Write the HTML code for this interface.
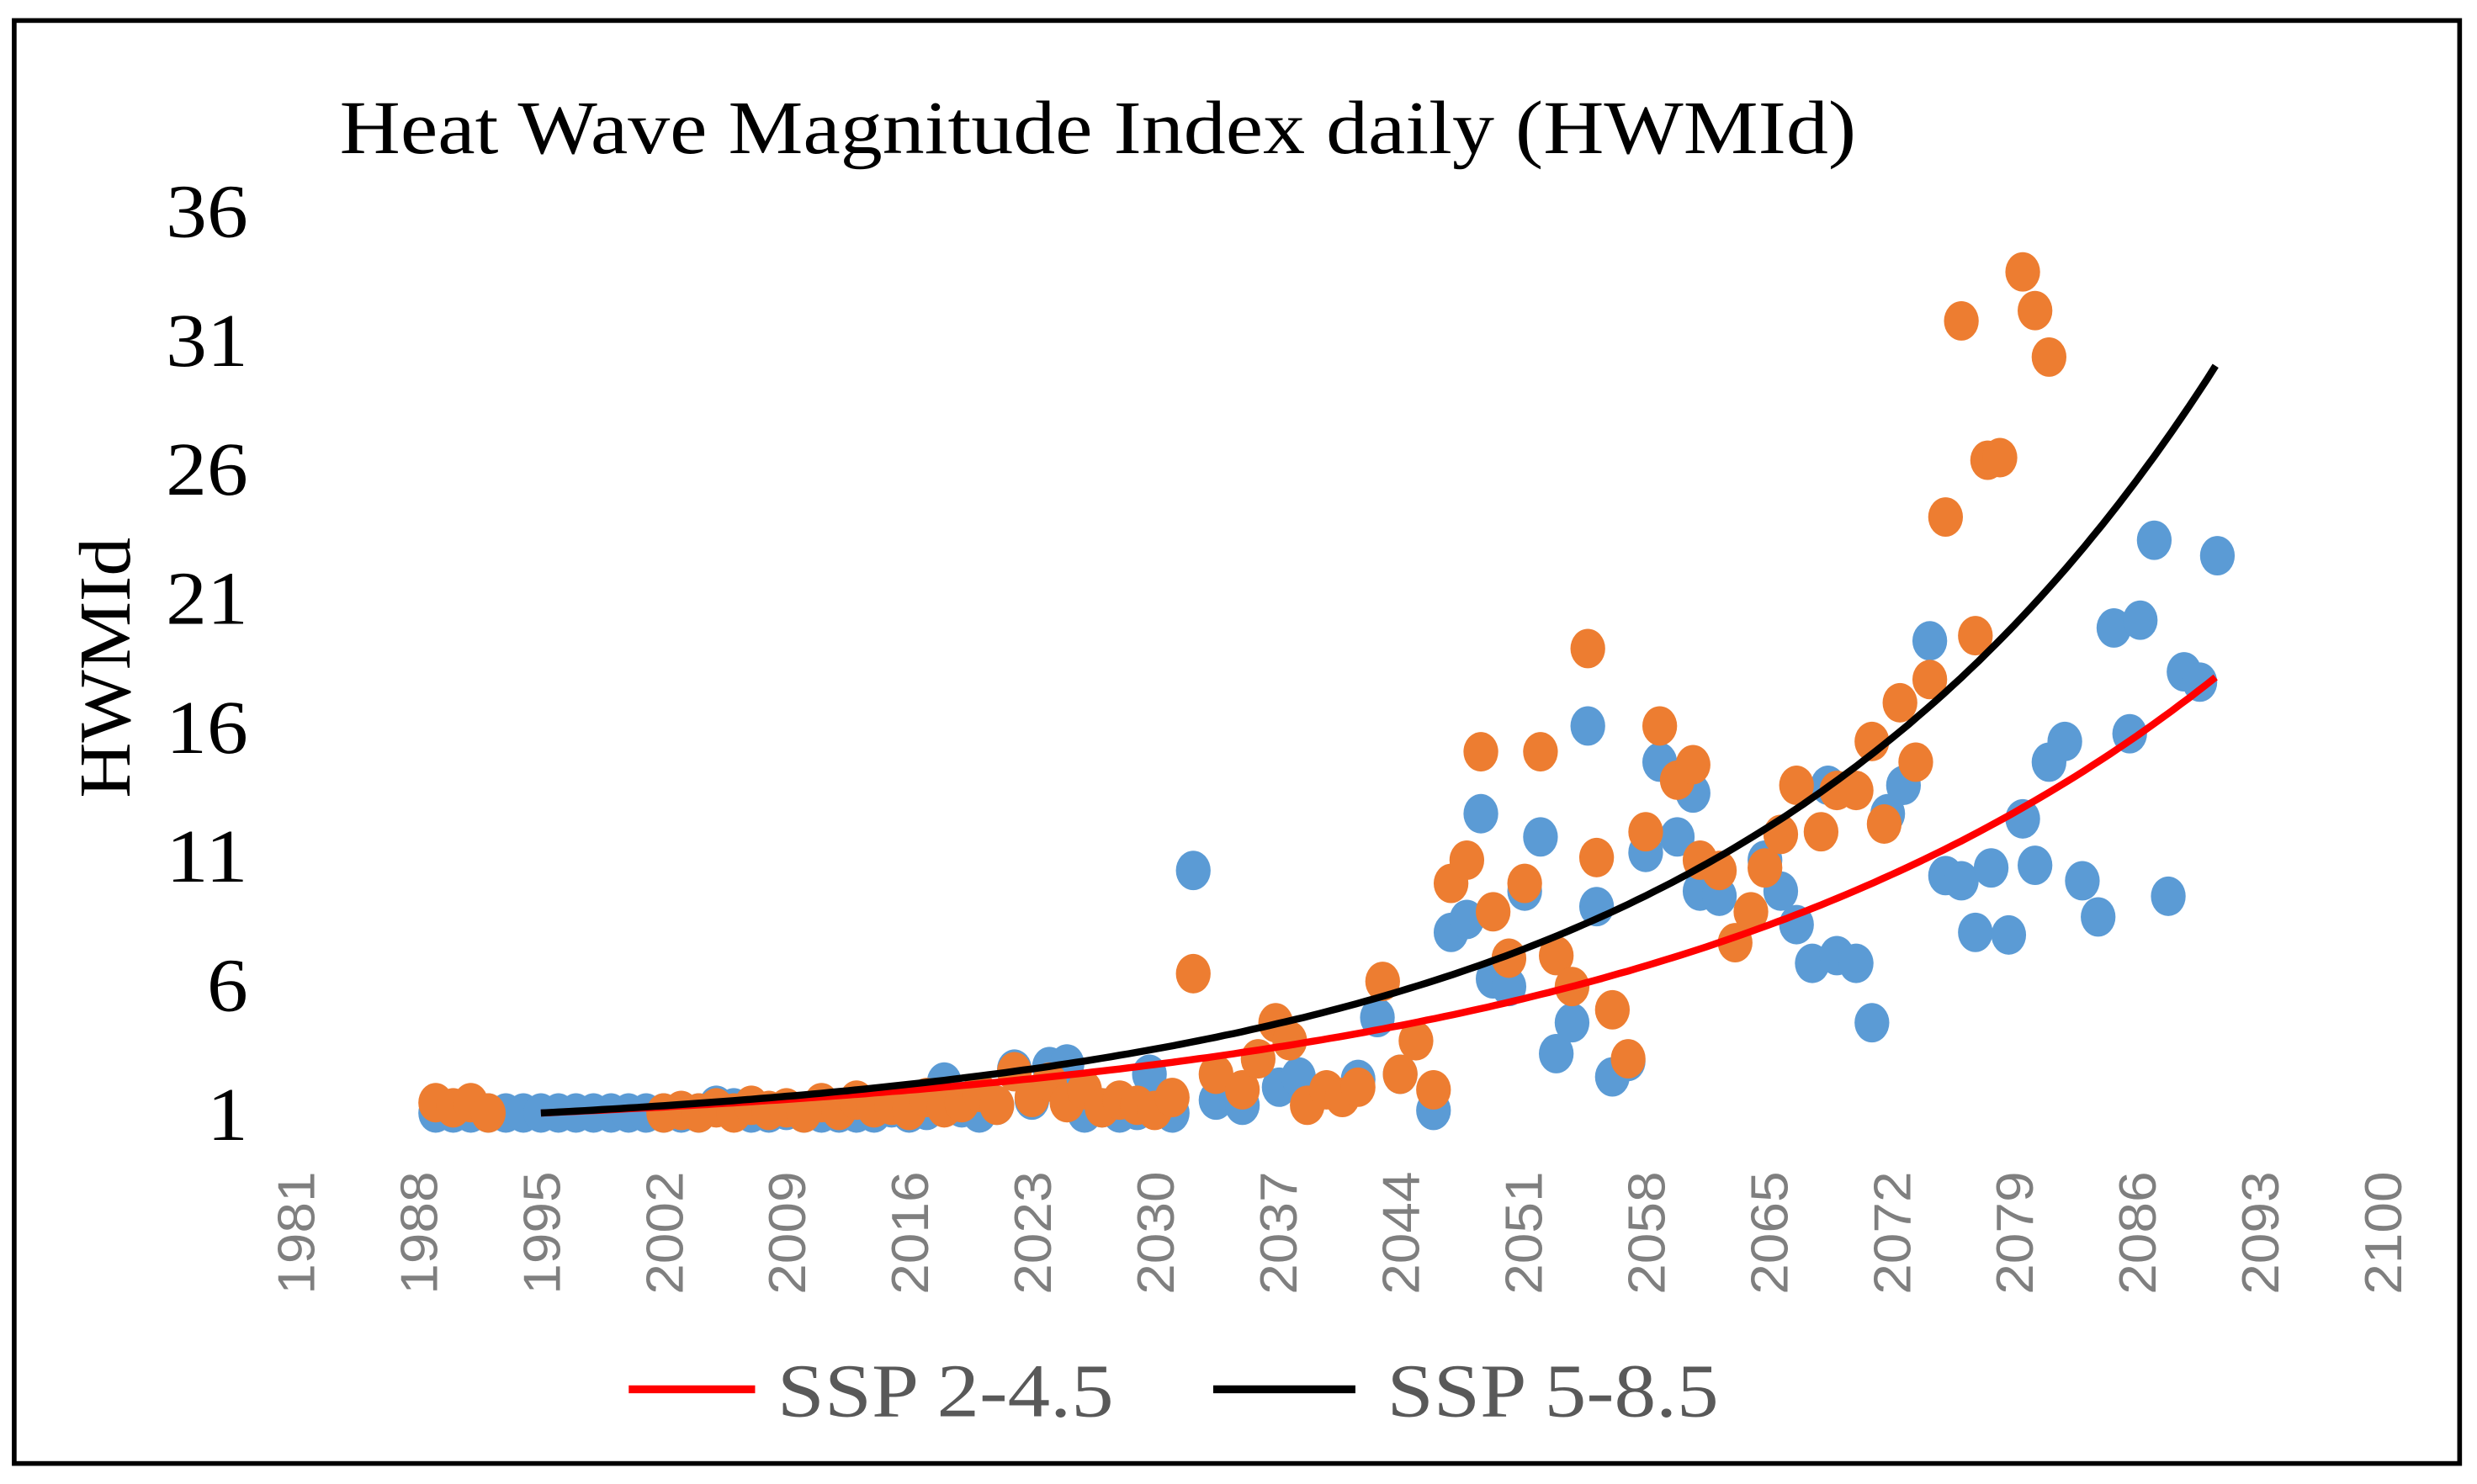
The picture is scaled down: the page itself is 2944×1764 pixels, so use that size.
<!DOCTYPE html>
<html><head><meta charset="utf-8"><style>
html,body{margin:0;padding:0;background:#fff;}
svg{display:block;}
</style></head><body>
<svg id="chart" width="2944" height="1764" viewBox="0 0 1568 940" preserveAspectRatio="none" xmlns="http://www.w3.org/2000/svg">
<rect x="9" y="13" width="1548" height="914" fill="#fff" stroke="#000" stroke-width="3"/>
<text x="215" y="97" textLength="960" lengthAdjust="spacingAndGlyphs" font-family="Liberation Serif, serif" font-size="48" fill="#000">Heat Wave Magnitude Index daily (HWMId)</text>
<text transform="translate(82,423) rotate(-90)" text-anchor="middle" textLength="165" lengthAdjust="spacingAndGlyphs" font-family="Liberation Serif, serif" font-size="46" fill="#000">HWMId</text>
<g id="yticks"></g>
<g id="xticks"></g>
<g id="blue"></g>
<g id="orange"></g>
<g id="trends"></g>
<g>
<line x1="398" y1="880" x2="478" y2="880" stroke="#ff0000" stroke-width="5"/>
<text x="492" y="897" textLength="213" lengthAdjust="spacingAndGlyphs" font-family="Liberation Serif, serif" font-size="48" fill="#595959">SSP 2-4.5</text>
<line x1="768" y1="880" x2="858" y2="880" stroke="#000" stroke-width="5"/>
<text x="878" y="897" textLength="210" lengthAdjust="spacingAndGlyphs" font-family="Liberation Serif, serif" font-size="48" fill="#595959">SSP 5-8.5</text>
</g>
</svg>
<script>
const yTicks=[1,6,11,16,21,26,31,36];
const xTicks=[1981,1988,1995,2002,2009,2016,2023,2030,2037,2044,2051,2058,2065,2072,2079,2086,2093,2100];
const blueYears=[1989,1990,1991,1992,1993,1994,1995,1996,1997,1998,1999,2000,2001,2002,2003,2004,2005,2006,2007,2008,2009,2010,2011,2012,2013,2014,2015,2016,2017,2018,2019,2020,2021,2022,2023,2024,2025,2026,2027,2028,2029,2029.7,2031,2032.2,2033.5,2035,2037.1,2038.2,2041.6,2042.7,2044,2045.9,2046.9,2047.8,2048.6,2049.3,2050.2,2051.1,2052,2052.9,2053.8,2054.7,2055.2,2056.1,2057,2058,2058.8,2059.8,2060.7,2061.1,2062.2,2064.8,2065.7,2066.6,2067.5,2068.4,2068.9,2070,2070.9,2071.8,2072.7,2074.2,2075.1,2076,2076.8,2077.7,2078.7,2079.5,2080.2,2081,2081.9,2082.9,2083.8,2084.7,2085.6,2086.2,2087,2087.8,2088.7,2089.6,2090.6];
const blueValues=[1,1,1,1,1,1,1,1,1,1,1,1,1,1,1,1,1.3,1.2,1,1,1.1,1,1,1,1,1,1.2,1,1.1,2.2,1.2,1,1.3,2.7,1.5,2.8,2.9,1,1.2,1,1.1,2.5,1,10.4,1.5,1.3,2,2.4,2.3,4.7,2.5,1.1,8,8.5,12.6,6.2,5.9,9.6,11.7,3.3,4.5,16,9,2.4,3,11.1,14.6,11.7,13.4,9.6,9.4,10.8,9.6,8.3,6.8,13.7,7.1,6.8,4.5,12.6,13.7,19.3,10.2,10,8,10.5,7.9,12.4,10.6,14.6,15.4,10,8.6,19.8,15.7,20.1,23.2,9.4,18.1,17.7,22.6];
const orangeYears=[1989,1990,1991,1992,2002,2003,2004,2005,2006,2007,2008,2009,2010,2011,2012,2013,2014,2015,2016,2017,2018,2019,2020,2021,2022,2023,2024,2025,2026,2027,2028,2029,2030,2031,2032.2,2033.5,2035,2035.9,2036.9,2037.7,2038.7,2039.8,2040.7,2041.6,2043,2044,2044.9,2045.9,2046.9,2047.8,2048.6,2049.3,2050.2,2051.1,2052,2052.9,2053.8,2054.7,2055.2,2056.1,2057,2058,2058.8,2059.8,2060.7,2061.1,2062.2,2063.1,2064,2064.8,2065.7,2066.6,2068,2068.9,2070,2070.9,2071.6,2072.5,2073.4,2074.2,2075.1,2076,2076.8,2077.5,2078.2,2079.5,2080.2,2081];
const orangeValues=[1.4,1.2,1.4,1,1,1.1,1,1.2,1,1.3,1.1,1.2,1,1.4,1.1,1.5,1.2,1.3,1.1,1.6,1.2,1.4,1.8,1.3,2.6,1.6,2.2,1.4,1.9,1.2,1.5,1.3,1.1,1.6,6.4,2.5,1.9,3.1,4.5,3.8,1.3,1.9,1.6,2,6.1,2.5,3.8,1.9,9.9,10.8,15,8.8,7,9.9,15,7.1,5.9,19,10.9,5,3.1,11.9,16,13.9,14.5,10.8,10.4,7.6,8.8,10.5,11.8,13.7,11.9,13.5,13.5,15.4,12.2,16.9,14.6,17.8,24.1,31.7,19.5,26.3,26.4,33.6,32.1,30.3];
// exponential trendlines: [startYear, endYear, a, b] value = a*exp(b*(year-start))
const trendSSP245=[1995,2090.7,1.0,0.0302];
const trendSSP585=[1995,2090.7,1.0,0.0356];

const NS="http://www.w3.org/2000/svg";
const X0=187,X1=1508,Y0=705,Y1=133;
function xs(yr){return X0+(yr-1981)*(X1-X0)/(2100-1981);}
function ys(v){return Y0-(v-1)*(Y0-Y1)/35;}
const yg=document.getElementById('yticks');
yTicks.forEach(t=>{const e=document.createElementNS(NS,'text');


e.setAttribute('x',157);e.setAttribute('y',ys(t)+17);e.setAttribute('text-anchor','end');
e.setAttribute('font-family','Liberation Serif, serif');e.setAttribute('font-size','48');
e.setAttribute('textLength',String(t).length*26);e.setAttribute('lengthAdjust','spacingAndGlyphs');
e.textContent=t;yg.appendChild(e);});
const xg=document.getElementById('xticks');
xTicks.forEach(t=>{const e=document.createElementNS(NS,'text');


const x=xs(t)+12,y=742;
e.setAttribute('transform','translate('+x+','+y+') rotate(-90)');e.setAttribute('text-anchor','end');
e.setAttribute('font-family','Liberation Sans, sans-serif');e.setAttribute('font-size','33');e.setAttribute('fill','#7f7f7f');
e.setAttribute('textLength','78');e.setAttribute('lengthAdjust','spacingAndGlyphs');
e.textContent=t;xg.appendChild(e);});
function dots(g,yrs,vals,col){yrs.forEach((yr,i)=>{const c=document.createElementNS(NS,'ellipse');


c.setAttribute('cx',xs(yr));c.setAttribute('cy',ys(vals[i]));c.setAttribute('rx',11);c.setAttribute('ry',12.5);c.setAttribute('fill',col);g.appendChild(c);});}
dots(document.getElementById('blue'),blueYears,blueValues,'#5b9bd5');
dots(document.getElementById('orange'),orangeYears,orangeValues,'#ed7d31');
function trend(tr,col,name){const [s,e,a,b]=tr;let d='';
for(let yr=s;yr<=e+0.001;yr+=0.5){const v=a*Math.exp(b*(yr-s));d+=(d?'L':'M')+xs(yr).toFixed(1)+','+ys(v).toFixed(1);}
const p=document.createElementNS(NS,'path');


p.setAttribute('d',d);p.setAttribute('fill','none');p.setAttribute('stroke',col);p.setAttribute('stroke-width','4.5');
document.getElementById('trends').appendChild(p);}
trend(trendSSP245,'#ff0000','trendline-ssp245');
trend(trendSSP585,'#000000','trendline-ssp585');
</script>
</body></html>
